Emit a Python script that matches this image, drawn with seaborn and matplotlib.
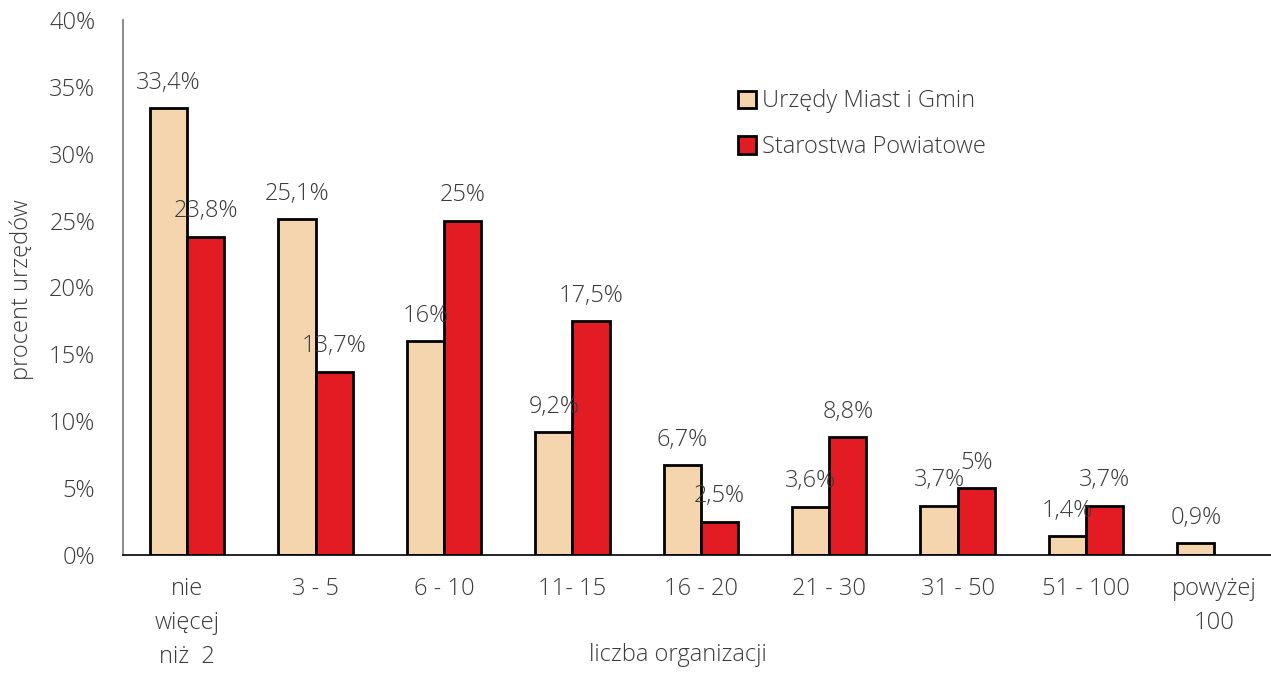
import pandas as pd
import numpy as np
import matplotlib
matplotlib.use("Agg")
import matplotlib.pyplot as plt
import seaborn as sns

# data
categories = ["nie\nwięcej\nniż  2", "3 - 5", "6 - 10", "11- 15", "16 - 20",
              "21 - 30", "31 - 50", "51 - 100", "powyżej\n100"]
urzedy = [33.4, 25.1, 16, 9.2, 6.7, 3.6, 3.7, 1.4, 0.9]
starostwa = [23.8, 13.7, 25, 17.5, 2.5, 8.8, 5, 3.7, np.nan]
urzedy_labels = ["33,4%", "25,1%", "16%", "9,2%", "6,7%", "3,6%", "3,7%", "1,4%", "0,9%"]
starostwa_labels = ["23,8%", "13,7%", "25%", "17,5%", "2,5%", "8,8%", "5%", "3,7%", ""]
series = ["Urzędy Miast i Gmin", "Starostwa Powiatowe"]

df = pd.DataFrame({
    "kategoria": categories * 2,
    "seria": [series[0]] * len(categories) + [series[1]] * len(categories),
    "procent": urzedy + starostwa,
})

sns.set_style("white")
plt.rcParams["font.family"] = ["Open Sans", "DejaVu Sans"]
plt.rcParams["font.weight"] = "light"
text_color = "#3a3a3a"
fs = 17

fig = plt.figure(figsize=(12.71, 6.73), dpi=100)
W, H = 1271, 673
ax = fig.add_axes([123 / W, 1 - 555 / H, (9 * 128.4) / W, (555 - 20) / H])

sns.barplot(data=df, x="kategoria", y="procent", hue="seria", hue_order=series,
            palette=["#F5D5AE", "#E31B23"], saturation=1, width=0.58,
            edgecolor="black", linewidth=2, ax=ax)

ax.set_ylim(0, 40)
ax.set_xlim(-0.5, len(categories) - 0.5)
ax.set_yticks(range(0, 41, 5))
ax.set_yticklabels([f"{v}%" for v in range(0, 41, 5)], fontsize=fs, color=text_color)

# value labels
for i, (u, s) in enumerate(zip(urzedy, starostwa)):
    ax.text(i - 0.145, u + 1.0, urzedy_labels[i], ha="center", va="bottom",
            fontsize=fs, color=text_color)
    if not np.isnan(s):
        ax.text(i + 0.145, s + 1.0, starostwa_labels[i], ha="center", va="bottom",
                fontsize=fs, color=text_color)

# x ticks between categories
ax.set_xticks(np.arange(-0.5, len(categories), 1))
ax.set_xticklabels([])
ax.set_xticks(range(len(categories)), minor=True)
ax.set_xticklabels(categories, minor=True, fontsize=fs, color=text_color,
                   linespacing=1.55)
ax.tick_params(axis="x", which="major", length=8, width=1, color="#777777", direction="out")
ax.tick_params(axis="x", which="minor", length=0, pad=16)
ax.tick_params(axis="y", length=8, width=1, color="#777777", direction="out", pad=12)

for side in ["top", "right"]:
    ax.spines[side].set_visible(False)
ax.spines["left"].set_color("#777777")
ax.spines["left"].set_linewidth(1.2)
ax.spines["bottom"].set_color("black")
ax.spines["bottom"].set_linewidth(1.2)

ax.set_xlabel("")
ax.set_ylabel("")
fig.text(678 / W, 1 - 655 / H, "liczba organizacji", ha="center", va="center",
         fontsize=fs, color=text_color)
fig.text(22 / W, 1 - 290 / H, "procent urzędów", ha="center", va="center",
         rotation=90, fontsize=fs, color=text_color)

leg = ax.legend(loc="upper left", bbox_to_anchor=(0.514, 0.91), frameon=False,
                fontsize=fs, handlelength=0.75, handleheight=0.75,
                handletextpad=0.25, labelspacing=0.92)
for t in leg.get_texts():
    t.set_color(text_color)

fig.savefig("out.png", dpi=100)
